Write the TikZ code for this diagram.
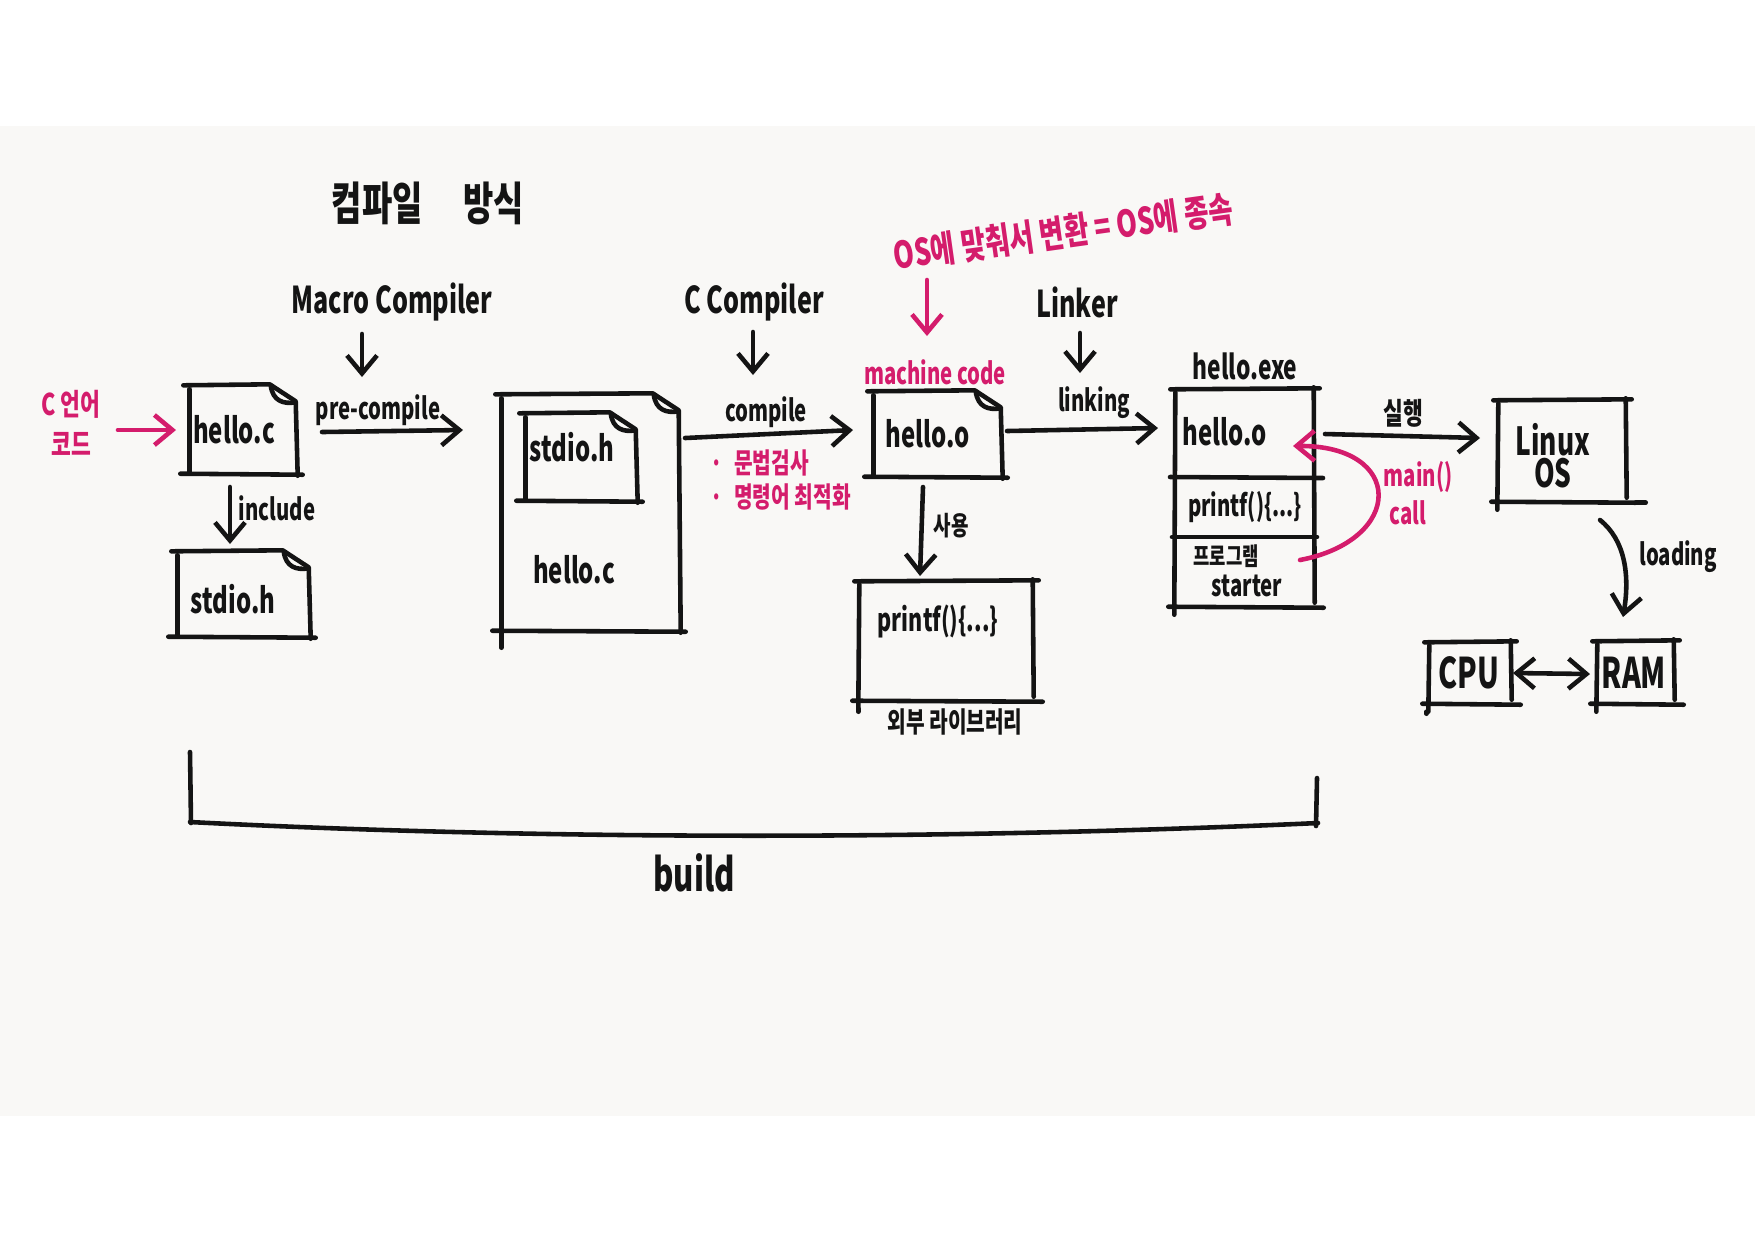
\documentclass[tikz,border=0pt]{standalone}
\usepackage{fontspec}
\setmainfont{Noto Sans CJK KR}[FakeStretch=0.68]
\newfontfamily\kr{Noto Sans CJK KR}[FakeStretch=0.72]
\usetikzlibrary{arrows.meta,calc,fit}
\definecolor{ink}{RGB}{20,20,20}
\definecolor{mag}{RGB}{212,28,108}
\definecolor{paper}{RGB}{249,248,246}
\tikzset{
  inkl/.style={draw=ink, line width=1.3pt, line cap=round, line join=round},
  magl/.style={draw=mag, line width=1.3pt, line cap=round, line join=round},
  arr/.style={-{Straight Barb[length=1.8mm,width=3mm]}},
  darr/.style={{Straight Barb[length=1.8mm,width=3mm]}-{Straight Barb[length=1.8mm,width=3mm]}},
  fitbox/.style={inner sep=0pt, draw=none},
  tx/.style={inner sep=0pt, text=ink, font=\bfseries\fontsize{10}{12}\selectfont},
  txs/.style={tx, font=\bfseries\fontsize{8.5}{10}\selectfont},
  txm/.style={txs, text=mag},
  krt/.style={inner sep=0pt, text=ink, font=\kr\bfseries\fontsize{8}{10}\selectfont},
  krm/.style={krt, text=mag},
}
\newcommand\skdoc[1]{%
  \draw[inkl] ($(#1.north west)+(-5,0)$) -- ($(#1.north east)+(-26,-1)$) -- ($(#1.north east)+(0,16)$) -- ($(#1.south east)+(2,2)$);
  \draw[inkl] ($(#1.north east)+(-25,0)$) .. controls ($(#1.north east)+(-23,16)$) and ($(#1.north east)+(-12,19)$) .. ($(#1.north east)+(0,17)$);
  \draw[inkl] ($(#1.south west)+(-8,0)$) -- ($(#1.south east)+(7,1)$);
  \draw[inkl] ($(#1.north west)+(1,4)$) -- ($(#1.south west)+(1,-2)$);
}
\newcommand\skbox[1]{%
  \draw[inkl] ($(#1.north west)+(-4,0)$) -- ($(#1.north east)+(6,-1)$);
  \draw[inkl] ($(#1.north east)+(0,-2)$) -- ($(#1.south east)+(1,-4)$);
  \draw[inkl] ($(#1.south west)+(-6,0)$) -- ($(#1.south east)+(10,1)$);
  \draw[inkl] ($(#1.north west)+(1,3)$) -- ($(#1.south west)+(0,8)$);
}
\begin{document}
\begin{tikzpicture}[x=0.01cm,y=-0.01cm]
\useasboundingbox (0,0) rectangle (1755,1241);
\fill[white] (0,0) rectangle (1755,1241);
\fill[paper] (0,126) rectangle (1755,1116);

% title
\node[krt, font=\kr\bfseries\fontsize{13}{15}\selectfont] (title) at (428,203) {컴파일\hspace{0.9em}방식};

% tool labels
\node[tx, font=\bfseries\fontsize{10.5}{12}\selectfont] (mc) at (392,302) {Macro Compiler};
\node[tx, font=\bfseries\fontsize{10.5}{12}\selectfont] (cc) at (754,302) {C Compiler};
\node[tx, font=\bfseries\fontsize{10.5}{12}\selectfont] (lk) at (1077,302) {Linker};

% boxes
\node[fitbox, fit={(189,386) (295,473)}] (hc) {};
\node[fitbox, fit={(177,552) (308,636)}] (sh) {};
\node[fitbox, fit={(501,395) (678,630)}] (bf) {};
\node[fitbox, fit={(525,414) (635,500)}] (ih) {};
\node[fitbox, fit={(873,392) (1000,476)}] (ho) {};
\node[fitbox, fit={(859,582) (1032,700)}] (pb) {};
\node[fitbox, fit={(1175,390) (1313,606)}] (he) {};
\node[fitbox, fit={(1498,401) (1625,501)}] (lo) {};
\node[fitbox, fit={(1429,643) (1510,703)}] (cpu) {};
\node[fitbox, fit={(1597,642) (1673,703)}] (ram) {};

\skdoc{hc}
\skdoc{sh}
\skdoc{bf}
\draw[inkl] ($(bf.south west)+(1,-2)$) -- ($(bf.south west)+(1,17)$);
\skdoc{ih}
\skdoc{ho}
\skbox{pb}
\draw[inkl] ($(pb.south west)+(0,8)$) -- ($(pb.south west)+(0,11)$);
\skbox{he}
\draw[inkl] (1170,477) -- (1323,478);
\draw[inkl] (1172,537) -- (1317,537);
\skbox{lo}
\draw[inkl] ($(lo.south east)+(10,1)$) -- ($(lo.south east)+(20,1)$);
\skbox{cpu}
\draw[inkl] ($(cpu.south west)+(-2,8)$) -- ($(cpu.south west)+(-2,10)$);
\skbox{ram}

% box texts
\node[tx] (hcT) at (234,430) {hello.c};
\node[tx] (shT) at (233,599) {stdio.h};
\node[tx] (ihT) at (572,447) {stdio.h};
\node[tx] (bfT) at (574,570) {hello.c};
\node[tx] (hoT) at (928,434) {hello.o};
\node[tx, font=\bfseries\fontsize{9}{11}\selectfont] (pbT) at (938,621) {printf()\{...\}};
\node[krt] (lib) at (955,722) {외부 라이브러리};
\node[tx, font=\bfseries\fontsize{9.5}{11}\selectfont] (heL) at (1245,366) {hello.exe};
\node[tx] (he1) at (1225,432) {hello.o};
\node[tx, font=\bfseries\fontsize{8.5}{10}\selectfont] (he2) at (1245,507) {printf()\{...\}};
\node[krt, font=\kr\bfseries\fontsize{7}{9}\selectfont] (he3a) at (1226,556) {프로그램};
\node[txs] (he3b) at (1247,586) {starter};
\node[tx, font=\bfseries\fontsize{11}{13}\selectfont] (loT1) at (1553,440) {Linux};
\node[tx, font=\bfseries\fontsize{11}{13}\selectfont] (loT2) at (1553,473) {OS};
\node[tx, font=\bfseries\fontsize{12}{14}\selectfont] (cpuT) at (1469,673) {CPU};
\node[tx, font=\bfseries\fontsize{12}{14}\selectfont] (ramT) at (1634,673) {RAM};

% magenta annotations
\node[krm, font=\kr\bfseries\fontsize{8.5}{11.4}\selectfont, align=center] (ckr) at (71,423) {C 언어\\코드};
\node[txm] (mcode) at (935,372) {machine code};
\node[krm, font=\kr\bfseries\fontsize{10.5}{12}\selectfont, rotate=8] (osl) at (1063,232) {OS에 맞춰서 변환 = OS에 종속};
\node[krm, anchor=west, font=\kr\bfseries\fontsize{8}{10}\selectfont] (b1) at (710,463) {·\hspace{0.4em}문법검사};
\node[krm, anchor=west, font=\kr\bfseries\fontsize{8}{10}\selectfont] (b2) at (710,497) {·\hspace{0.4em}명령어 최적화};
\node[txm] (mainT) at (1418,477) {main()};
\node[txm] (callT) at (1408,513) {call};

% edge labels
\node[txs] (pre) at (378,410) {pre-compile};
\node[txs] (inc) at (277,508) {include};
\node[txs] (cmp) at (766,412) {compile};
\node[txs] (lnk) at (1094,403) {linking};
\node[krt, font=\kr\bfseries\fontsize{7.5}{9}\selectfont] (use) at (951,526) {사용};
\node[krt, font=\kr\bfseries\fontsize{8.5}{10}\selectfont] (run) at (1403,413) {실행};
\node[txs] (load) at (1678,557) {loading};

% coordinates for free arrow ends
\coordinate (a1s) at (118,430); \coordinate (a1e) at (176,430);
\coordinate (a2s) at (362,334); \coordinate (a2e) at (362,377);
\coordinate (a3s) at (322,432); \coordinate (a3e) at (463,430);
\coordinate (a4s) at (230,487); \coordinate (a4e) at (230,544);
\coordinate (a5s) at (753,332); \coordinate (a5e) at (753,375);
\coordinate (a6s) at (685,438); \coordinate (a6e) at (853,430);
\coordinate (a7s) at (927,280); \coordinate (a7e) at (927,336);
\coordinate (a8s) at (1080,333); \coordinate (a8e) at (1080,373);
\coordinate (a9s) at (1007,431); \coordinate (a9e) at (1158,428);
\coordinate (a10s) at (923,487); \coordinate (a10e) at (920,576);
\coordinate (a11s) at (1325,434); \coordinate (a11e) at (1480,438);
\coordinate (a12s) at (1300,560); \coordinate (a12e) at (1293,446);
\coordinate (a13s) at (1600,520); \coordinate (a13e) at (1623,617);
\coordinate (a14s) at (1513,673); \coordinate (a14e) at (1590,674);

\draw[magl,arr] (a1s) -- (a1e);
\draw[inkl,arr] (a2s) -- (a2e);
\draw[inkl,arr] (a3s) -- (a3e);
\draw[inkl,arr] (a4s) -- (a4e);
\draw[inkl,arr] (a5s) -- (a5e);
\draw[inkl,arr] (a6s) -- (a6e);
\draw[magl,arr] (a7s) -- (a7e);
\draw[inkl,arr] (a8s) -- (a8e);
\draw[inkl,arr] (a9s) -- (a9e);
\draw[inkl,arr] (a10s) -- (a10e);
\draw[inkl,arr] (a11s) -- (a11e);
\draw[magl,arr] (a12s) .. controls (1405,540) and (1405,445) .. (a12e);
\draw[inkl,arr] (a13s) .. controls (1625,540) and (1630,575) .. (a13e);
\draw[inkl,darr] (a14s) -- (a14e);

% build brace
\coordinate (bl) at (190,752);
\coordinate (br) at (1317,778);
\draw[inkl] (bl) -- (191,823);
\draw[inkl] (190,822) .. controls (500,838) and (900,842) .. (1318,823);
\draw[inkl] (br) -- (1316,826);
\node[tx, font=\bfseries\fontsize{13}{15}\selectfont] (build) at (694,873) {build};
\end{tikzpicture}
\end{document}
